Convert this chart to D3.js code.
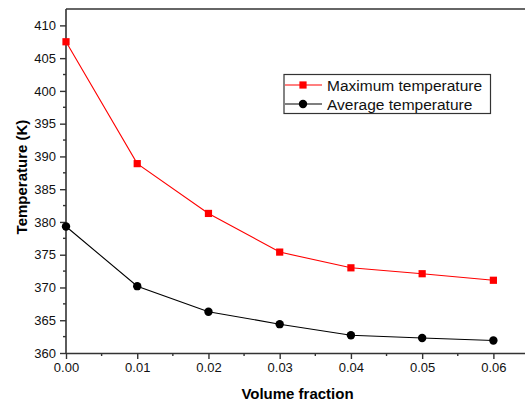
<!DOCTYPE html>
<html>
<head>
<meta charset="utf-8">
<script src="https://cdn.jsdelivr.net/npm/d3@7"></script>
<style>
  html, body { margin: 0; padding: 0; background: #fff; }
  svg { display: block; font-family: "Liberation Sans", Arial, sans-serif; }
</style>
</head>
<body>
<svg id="chart" width="525" height="404"></svg>
<script>
// Volume fractions and the temperatures measured at each
const volumeFraction = [0.00, 0.01, 0.02, 0.03, 0.04, 0.05, 0.06];
const maxTemperature = [407.5, 388.9, 381.3, 375.4, 373.0, 372.1, 371.1];
const avgTemperature = [379.3, 370.2, 366.3, 364.4, 362.7, 362.3, 361.9];
const xTickValues = [0.00, 0.01, 0.02, 0.03, 0.04, 0.05, 0.06];
const yTickValues = [360, 365, 370, 375, 380, 385, 390, 395, 400, 405, 410];
const seriesNames = ["Maximum temperature", "Average temperature"];

const svg = d3.select("#chart");
const plotLeft = 66, plotRight = 529, plotTop = 9, plotBottom = 353;

const x = d3.scaleLinear().domain([0, 0.065]).range([plotLeft, plotRight]);
const y = d3.scaleLinear().domain([360, 412.5]).range([plotBottom, plotTop]);

const axisColor = "#333";

// frame (top line reaches past the window edge)
svg.append("line").attr("x1", plotLeft).attr("x2", plotRight)
  .attr("y1", plotTop).attr("y2", plotTop)
  .attr("stroke", axisColor).attr("stroke-width", 1.6);

// x axis: major ticks with labels, minor ticks between
const xMinor = d3.range(0.005, 0.065, 0.01);
const xAxis = svg.append("g").attr("transform", `translate(0,${plotBottom})`);
xAxis.call(d3.axisBottom(x).tickValues(xTickValues).tickFormat(d3.format(".2f"))
  .tickSizeInner(6).tickSizeOuter(0).tickPadding(4));
xAxis.selectAll(".tick text").attr("font-size", 13).attr("fill", "#111")
  .attr("font-family", "Liberation Sans, Arial, sans-serif");
xAxis.select(".domain").attr("stroke", axisColor).attr("stroke-width", 1.6);
xAxis.selectAll(".tick line").attr("stroke", axisColor).attr("stroke-width", 1.4);
xAxis.selectAll(".minor").data(xMinor).enter().append("line")
  .attr("x1", d => x(d)).attr("x2", d => x(d)).attr("y1", 0).attr("y2", 3)
  .attr("stroke", axisColor).attr("stroke-width", 1.4);

// y axis
const yMinor = d3.range(362.5, 412.5, 5);
const yAxis = svg.append("g").attr("transform", `translate(${plotLeft},0)`);
yAxis.call(d3.axisLeft(y).tickValues(yTickValues).tickFormat(d3.format("d"))
  .tickSizeInner(6).tickSizeOuter(0).tickPadding(4));
yAxis.selectAll(".tick text").attr("font-size", 13).attr("fill", "#111")
  .attr("font-family", "Liberation Sans, Arial, sans-serif");
yAxis.select(".domain").attr("stroke", axisColor).attr("stroke-width", 1.6)
  .attr("d", `M0,${plotBottom}V${plotTop}`);
yAxis.selectAll(".tick line").attr("stroke", axisColor).attr("stroke-width", 1.4);
yAxis.selectAll(".minor").data(yMinor).enter().append("line")
  .attr("x1", 0).attr("x2", -3).attr("y1", d => y(d)).attr("y2", d => y(d))
  .attr("stroke", axisColor).attr("stroke-width", 1.4);

// axis titles
svg.append("text").attr("x", (plotLeft + plotRight) / 2).attr("y", 399)
  .attr("text-anchor", "middle").attr("font-size", 15).attr("font-weight", "bold")
  .text("Volume fraction");
svg.append("text").attr("transform", `translate(27,177) rotate(-90)`)
  .attr("text-anchor", "middle").attr("font-size", 15).attr("font-weight", "bold")
  .text("Temperature (K)");

const line = d3.line().x((d, i) => x(volumeFraction[i])).y(d => y(d));

// maximum temperature: red line with squares
svg.append("path").datum(maxTemperature).attr("d", line)
  .attr("fill", "none").attr("stroke", "#ff0000").attr("stroke-width", 1.1);
svg.selectAll(".sq").data(maxTemperature).enter().append("rect")
  .attr("x", (d, i) => x(volumeFraction[i]) - 3.6).attr("y", d => y(d) - 3.6)
  .attr("width", 7.2).attr("height", 7.2).attr("fill", "#ff0000");

// average temperature: black line with circles
svg.append("path").datum(avgTemperature).attr("d", line)
  .attr("fill", "none").attr("stroke", "#000").attr("stroke-width", 1.1);
svg.selectAll(".dot").data(avgTemperature).enter().append("circle")
  .attr("cx", (d, i) => x(volumeFraction[i])).attr("cy", d => y(d))
  .attr("r", 4.2).attr("fill", "#000");

// legend
const lg = svg.append("g");
lg.append("rect").attr("x", 284).attr("y", 74.5).attr("width", 206.5).attr("height", 39)
  .attr("fill", "#fff").attr("stroke", "#333").attr("stroke-width", 1.2);
const rows = [
  { name: seriesNames[0], color: "#ff0000", shape: "square", cy: 85 },
  { name: seriesNames[1], color: "#000", shape: "circle", cy: 104 }
];
rows.forEach(r => {
  lg.append("line").attr("x1", 285).attr("x2", 322).attr("y1", r.cy).attr("y2", r.cy)
    .attr("stroke", r.color).attr("stroke-width", 1.1);
  if (r.shape === "square") {
    lg.append("rect").attr("x", 303 - 3.6).attr("y", r.cy - 3.6)
      .attr("width", 7.2).attr("height", 7.2).attr("fill", r.color);
  } else {
    lg.append("circle").attr("cx", 303).attr("cy", r.cy).attr("r", 4.2).attr("fill", r.color);
  }
  lg.append("text").attr("x", 327).attr("y", r.cy + 5.5).attr("font-size", 15.5)
    .attr("fill", "#111").text(r.name);
});
</script>
</body>
</html>
